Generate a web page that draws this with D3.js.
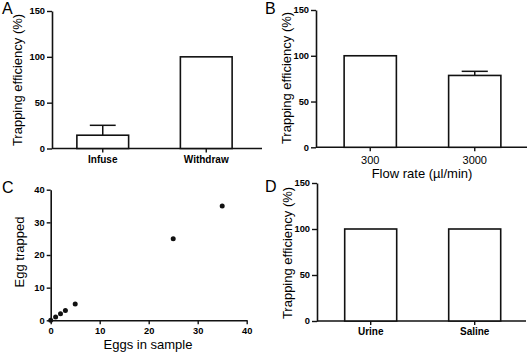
<!DOCTYPE html>
<html>
<head>
<meta charset="utf-8">
<script src="https://cdn.jsdelivr.net/npm/d3@7"></script>
<style>
  body { margin: 0; background: #fff; }
  svg { display: block; }
  text { font-family: "Liberation Sans", Arial, sans-serif; fill: #000; }
</style>
</head>
<body>
<svg id="chart" width="528" height="354"></svg>
<script>
// Panel A: trapping efficiency by pump mode
const modeCategories = ["Infuse", "Withdraw"];
const modeMeans = [14.5, 100];
const modeErrors = [10.8, 0];

// Panel B: trapping efficiency by flow rate
const flowCategories = ["300", "3000"];
const flowMeans = [100, 78.5];
const flowErrors = [0, 4.5];

// Panel C: eggs trapped vs eggs in sample
const eggsInSample = [0, 1, 2, 3, 5, 25, 35];
const eggsTrapped = [0, 1, 2, 3, 5, 25, 35];

// Panel D: trapping efficiency by medium
const mediumCategories = ["Urine", "Saline"];
const mediumMeans = [100, 100];
const mediumErrors = [0, 0];

const effTicks = [0, 50, 100, 150];
const eggTicks = [0, 10, 20, 30, 40];

const svg = d3.select("#chart");
const ink = "#111";

function panelLetter(letter, x, y) {
    svg.append("text")
        .attr("x", x).attr("y", y)
        .attr("font-size", 16)
        .text(letter);
}

function yLabel(text, x, y, size) {
    svg.append("text")
        .attr("transform", `translate(${x},${y}) rotate(-90)`)
        .attr("text-anchor", "middle")
        .attr("font-size", size)
        .text(text);
}

function styleAxis(g, size, weight) {
    g.selectAll("line").attr("stroke", ink).attr("stroke-width", 1.4);
    g.selectAll("path").attr("stroke", ink).attr("stroke-width", 1.6);
    g.selectAll("text").attr("font-size", size).attr("font-weight", weight).style("fill", "#000");
}

function barPanel(p) {
    const y = d3.scaleLinear().domain([0, 150]).range([p.bottom, p.top]);
    const x = d3.scaleBand().domain(p.categories).range(p.band)
        .paddingInner(0.5).paddingOuter(0.25);

    // y axis
    const gy = svg.append("g")
        .attr("transform", `translate(${p.left},0)`)
        .call(d3.axisLeft(y).tickValues(effTicks).tickSize(5).tickPadding(2).tickSizeOuter(0));
    styleAxis(gy, 9.3, "bold");

    // x axis: baseline drawn by hand, ticks at bar centres
    const gx = svg.append("g")
        .attr("transform", `translate(0,${p.bottom})`)
        .call(d3.axisBottom(x).tickSize(4).tickPadding(p.xPad).tickSizeOuter(0));
    gx.select(".domain").remove();
    styleAxis(gx, p.xFont, p.xWeight);
    svg.append("line")
        .attr("x1", p.left).attr("x2", p.right)
        .attr("y1", p.bottom).attr("y2", p.bottom)
        .attr("stroke", ink).attr("stroke-width", 1.6);

    const rows = p.categories.map((c, i) => ({c, m: p.means[i], e: p.errors[i]}));

    // error bars (upper only)
    rows.filter(d => d.e > 0).forEach(d => {
        const cx = x(d.c) + x.bandwidth() / 2;
        svg.append("line")
            .attr("x1", cx).attr("x2", cx)
            .attr("y1", y(d.m)).attr("y2", y(d.m + d.e))
            .attr("stroke", ink).attr("stroke-width", 1.5);
        svg.append("line")
            .attr("x1", cx - x.bandwidth() / 4).attr("x2", cx + x.bandwidth() / 4)
            .attr("y1", y(d.m + d.e)).attr("y2", y(d.m + d.e))
            .attr("stroke", ink).attr("stroke-width", 1.5);
    });

    svg.selectAll(null)
        .data(rows)
        .enter()
        .append("rect")
        .attr("x", d => x(d.c))
        .attr("y", d => y(d.m))
        .attr("width", x.bandwidth())
        .attr("height", d => y(0) - y(d.m))
        .attr("fill", "#fff")
        .attr("stroke", ink)
        .attr("stroke-width", 1.6);
}

// A
barPanel({categories: modeCategories, means: modeMeans, errors: modeErrors,
    left: 52, right: 262, top: 11, bottom: 148.5, band: [51, 258],
    xFont: 10, xWeight: "bold", xPad: 3});
panelLetter("A", 2, 14);
yLabel("Trapping efficiency (%)", 22, 80, 13);

// B
barPanel({categories: flowCategories, means: flowMeans, errors: flowErrors,
    left: 316, right: 527, top: 10, bottom: 147.3, band: [318, 527],
    xFont: 11, xWeight: "normal", xPad: 5});
panelLetter("B", 265, 14);
yLabel("Trapping efficiency (%)", 291, 78, 13);
svg.append("text")
    .attr("x", 422).attr("y", 178)
    .attr("text-anchor", "middle")
    .attr("font-size", 13)
    .text("Flow rate (µl/min)");

// D
barPanel({categories: mediumCategories, means: mediumMeans, errors: mediumErrors,
    left: 317, right: 526, top: 183, bottom: 321, band: [318.7, 526.7],
    xFont: 10, xWeight: "bold", xPad: 2.5});
panelLetter("D", 265, 192);
yLabel("Trapping efficiency (%)", 292, 253, 13);

// C scatter
const xs = d3.scaleLinear().domain([0, 40]).range([50.7, 246.7]);
const ys = d3.scaleLinear().domain([0, 40]).range([320.3, 189.7]);

const gcx = svg.append("g")
    .attr("transform", "translate(0,320.3)")
    .call(d3.axisBottom(xs).tickValues(eggTicks).tickSize(4).tickPadding(3).tickSizeOuter(0));
styleAxis(gcx, 9.3, "bold");
const gcy = svg.append("g")
    .attr("transform", "translate(50.7,0)")
    .call(d3.axisLeft(ys).tickValues(eggTicks).tickSize(4).tickPadding(2).tickSizeOuter(0));
styleAxis(gcy, 9.3, "bold");

svg.selectAll(null)
    .data(eggsInSample.map((v, i) => ({x: v, y: eggsTrapped[i]})))
    .enter()
    .append("circle")
    .attr("cx", d => xs(d.x))
    .attr("cy", d => ys(d.y))
    .attr("r", 2.5)
    .attr("fill", "#111");

panelLetter("C", 2, 193);
yLabel("Egg trapped", 24, 252, 13);
svg.append("text")
    .attr("x", 148).attr("y", 348.5)
    .attr("text-anchor", "middle")
    .attr("font-size", 13)
    .text("Eggs in sample");
</script>
</body>
</html>
